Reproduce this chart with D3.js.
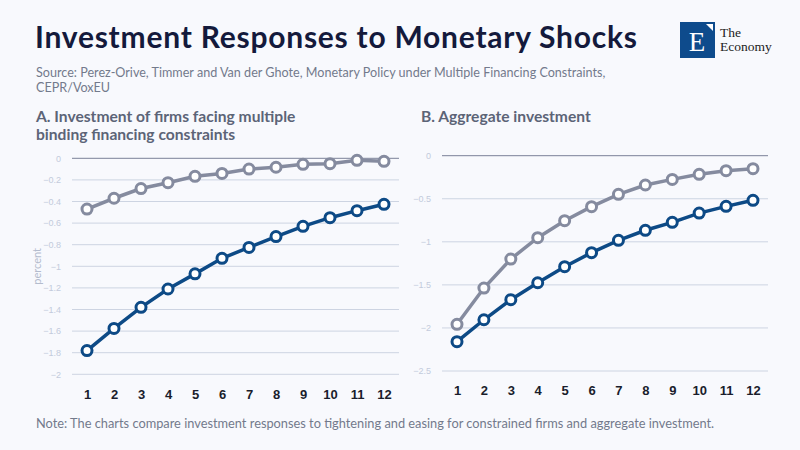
<!DOCTYPE html>
<html>
<head>
<meta charset="utf-8">
<script src="https://cdn.jsdelivr.net/npm/d3@7"></script>
<style>
  body { margin: 0; background: #f8f9fd; }
  svg { display: block; font-family: "Source Sans Pro", Lato, "Noto Sans", sans-serif; }
</style>
</head>
<body>
<div id="chart"></div>
<script>
// horizon (quarters after the shock)
var periods = [1, 2, 3, 4, 5, 6, 7, 8, 9, 10, 11, 12];

// Panel A: firms facing multiple binding constraints (percent)
var firmsTight = [-1.78, -1.575, -1.38, -1.21, -1.07, -0.926, -0.825, -0.725, -0.63, -0.55, -0.485, -0.426];
var firmsEase  = [-0.47, -0.37, -0.28, -0.226, -0.167, -0.14, -0.10, -0.083, -0.056, -0.05, -0.019, -0.028];

// Panel B: aggregate investment (percent)
var aggTight = [-2.16, -1.905, -1.672, -1.475, -1.289, -1.126, -0.983, -0.866, -0.774, -0.666, -0.588, -0.518];
var aggEase  = [-1.958, -1.537, -1.2, -0.952, -0.755, -0.592, -0.449, -0.34, -0.275, -0.216, -0.174, -0.151];

var ticksA = [0, -0.2, -0.4, -0.6, -0.8, -1, -1.2, -1.4, -1.6, -1.8, -2];
var ticksB = [0, -0.5, -1, -1.5, -2, -2.5];

var width = 800, height = 450;
var blue = "#0d4a86", grey = "#858b9f";

var svg = d3.select("#chart").append("svg")
    .attr("width", width)
    .attr("height", height);

svg.append("rect")
    .attr("width", width)
    .attr("height", height)
    .attr("fill", "#f8f9fd");

// title block
svg.append("text")
    .attr("x", 35)
    .attr("y", 48)
    .attr("font-size", 30)
    .attr("font-weight", 700)
    .attr("fill", "#141a3c")
    .attr("textLength", 602)
    .attr("lengthAdjust", "spacing")
    .text("Investment Responses to Monetary Shocks");

var src = svg.append("text")
    .attr("x", 36)
    .attr("font-size", 12.6)
    .attr("fill", "#737a8c");
src.append("tspan").attr("x", 36).attr("y", 77)
    .text("Source: Perez-Orive, Timmer and Van der Ghote, Monetary Policy under Multiple Financing Constraints,");
src.append("tspan").attr("x", 36).attr("y", 92)
    .text("CEPR/VoxEU");

// logo
var logo = svg.append("g");
logo.append("rect")
    .attr("x", 680).attr("y", 22)
    .attr("width", 35).attr("height", 36)
    .attr("fill", "#0e4b8c");
logo.append("text")
    .attr("x", 697).attr("y", 51)
    .attr("text-anchor", "middle")
    .attr("font-family", "Liberation Serif, serif")
    .attr("font-size", 27)
    .attr("fill", "#fff")
    .text("E");
logo.append("path")
    .attr("d", "M706,24 L713,24 L713,31 Z")
    .attr("fill", "#fff");
logo.append("text")
    .attr("x", 720).attr("y", 37)
    .attr("font-family", "Liberation Serif, serif")
    .attr("font-size", 13.5)
    .attr("fill", "#222")
    .text("The");
logo.append("text")
    .attr("x", 720).attr("y", 51)
    .attr("font-family", "Liberation Serif, serif")
    .attr("font-size", 13.5)
    .attr("fill", "#222")
    .text("Economy");

// footer
svg.append("text")
    .attr("x", 36)
    .attr("y", 428)
    .attr("font-size", 12.8)
    .attr("fill", "#737a8c")
    .text("Note: The charts compare investment responses to tightening and easing for constrained firms and aggregate investment.");

function panel(opts) {
  var g = svg.append("g");

  var t = g.append("text")
      .attr("font-size", 15.6)
      .attr("font-weight", 700)
      .attr("fill", "#5c6477");
  opts.title.forEach(function(line, i) {
    t.append("tspan").attr("x", opts.titleX).attr("y", 122 + i * 18).text(line);
  });

  var x = d3.scaleLinear()
      .domain([1, 12])
      .range([opts.x0 + 15, opts.x1 - 15]);
  var y = d3.scaleLinear()
      .domain(opts.domain)
      .range([opts.y0, opts.y1]);

  // grid lines
  g.selectAll(".grid")
      .data(opts.ticks)
    .enter().append("line")
      .attr("x1", opts.x0)
      .attr("x2", opts.x1)
      .attr("y1", function(d) { return y(d); })
      .attr("y2", function(d) { return y(d); })
      .attr("stroke", function(d) { return d === 0 ? "#7b8198" : "#cdd4e2"; })
      .attr("stroke-width", 1);

  var yAxis = g.append("g")
      .attr("transform", "translate(" + (opts.x0 - 8) + ",0)")
      .call(d3.axisLeft(y).tickValues(opts.ticks).tickSize(0).tickFormat(d3.format("")));
  yAxis.select(".domain").remove();
  yAxis.selectAll("text")
      .attr("font-size", 9)
      .attr("font-family", null)
      .attr("fill", "#c3cbdc");

  var xAxis = g.append("g")
      .attr("transform", "translate(0," + (opts.y1 + 12) + ")")
      .call(d3.axisBottom(x).tickValues(periods).tickSize(0).tickFormat(d3.format("d")));
  xAxis.select(".domain").remove();
  xAxis.selectAll("text")
      .attr("font-size", 13)
      .attr("font-weight", 700)
      .attr("font-family", null)
      .attr("fill", "#1a1d2c");

  if (opts.ylabel) {
    g.append("text")
        .attr("transform", "translate(" + opts.ylabelX + "," + ((opts.y0 + opts.y1) / 2) + ") rotate(-90)")
        .attr("text-anchor", "middle")
        .attr("font-size", 11)
        .attr("fill", "#b4bccd")
        .text(opts.ylabel);
  }

  var line = d3.line()
      .x(function(d, i) { return x(periods[i]); })
      .y(function(d) { return y(d); });

  opts.series.forEach(function(s) {
    g.append("path")
        .datum(s.values)
        .attr("fill", "none")
        .attr("stroke", s.color)
        .attr("stroke-width", 3.5)
        .attr("d", line);
    g.selectAll(null)
        .data(s.values)
      .enter().append("circle")
        .attr("cx", function(d, i) { return x(periods[i]); })
        .attr("cy", function(d) { return y(d); })
        .attr("r", 5)
        .attr("fill", "#fff")
        .attr("stroke", s.color)
        .attr("stroke-width", 3);
  });
}

panel({
  title: ["A. Investment of firms facing multiple", "binding financing constraints"],
  titleX: 36,
  x0: 72, x1: 399,
  y0: 158.3, y1: 374.3,
  domain: [0, -2],
  ticks: ticksA,
  ylabel: "percent",
  ylabelX: 41,
  series: [
    { values: firmsEase, color: grey },
    { values: firmsTight, color: blue }
  ]
});

panel({
  title: ["B. Aggregate investment"],
  titleX: 421,
  x0: 442, x1: 768,
  y0: 155.7, y1: 371,
  domain: [0, -2.5],
  ticks: ticksB,
  series: [
    { values: aggEase, color: grey },
    { values: aggTight, color: blue }
  ]
});
</script>
</body>
</html>
